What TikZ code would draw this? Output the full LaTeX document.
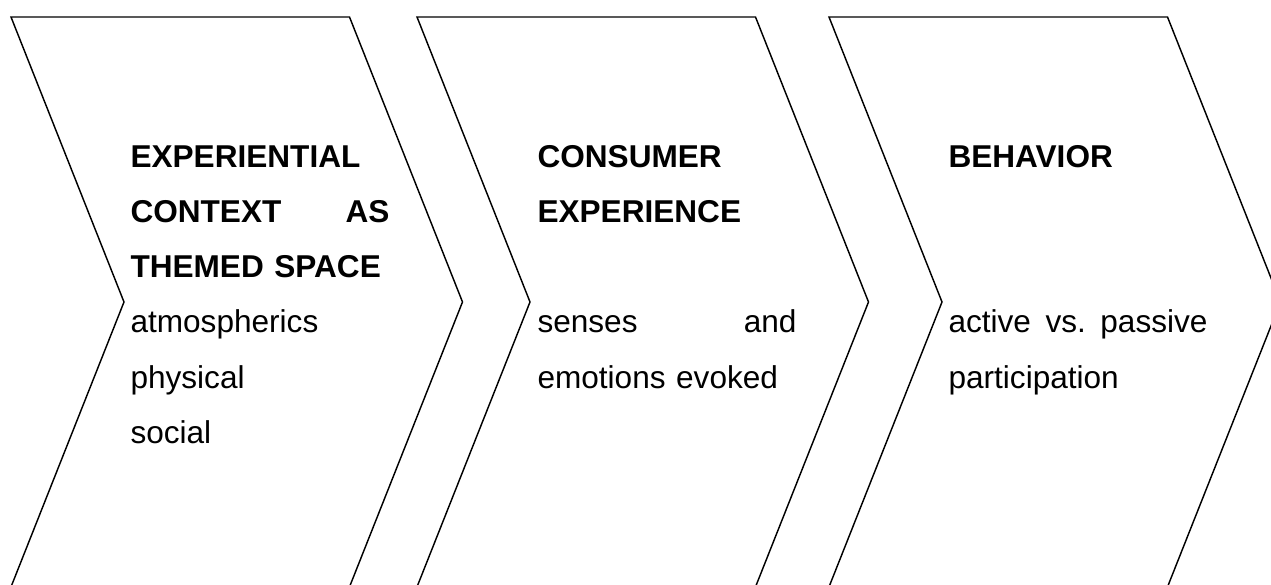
\documentclass[tikz,border=0pt]{standalone}
\usepackage{fontspec}
\setmainfont{Liberation Sans}
\usepackage{tikz}
\usetikzlibrary{positioning}

\tikzset{
  chevron/.style={draw=black,line width=0.55pt,line join=miter},
  colbody/.style={anchor=north west,inner sep=0pt,text width=98.4pt,
    align=left,font=\fontsize{12}{21}\selectfont}
}

\begin{document}
\begin{tikzpicture}[x=0.38pt,y=0.38pt]
  \useasboundingbox (0,0) rectangle (1271,585);
  \clip (0,0) rectangle (1271,585);

  % Three open chevrons, each 338.5 wide with a tip 113 deep;
  % the lower edge runs past the page and is cut off.
  \foreach \cx in {11,417,829} {
    \draw[chevron] (\cx,568) -- ++(338.5,0) -- ++(113,-285)
      -- ++(-116.2,-293) -- ++(-338.5,0) -- ++(116.2,293) -- cycle;
  }

  % Column texts: bold heading, then the items.
  \node[colbody] (context) at (130,457)
    {\strut\textbf{EXPERIENTIAL}\\
     \textbf{CONTEXT\hfill AS}\\
     \textbf{THEMED SPACE}\\
     atmospherics\\
     physical\\
     social};

  \node[colbody] (experience) at (537,457)
    {\strut\textbf{CONSUMER}\\
     \textbf{EXPERIENCE}\\
     \mbox{}\\
     senses\hfill and\\
     emotions evoked};

  \node[colbody] (behavior) at (948,457)
    {\strut\textbf{BEHAVIOR}\\
     \mbox{}\\
     \mbox{}\\
     active\hfill vs.\hfill passive\\
     participation};
\end{tikzpicture}
\end{document}
